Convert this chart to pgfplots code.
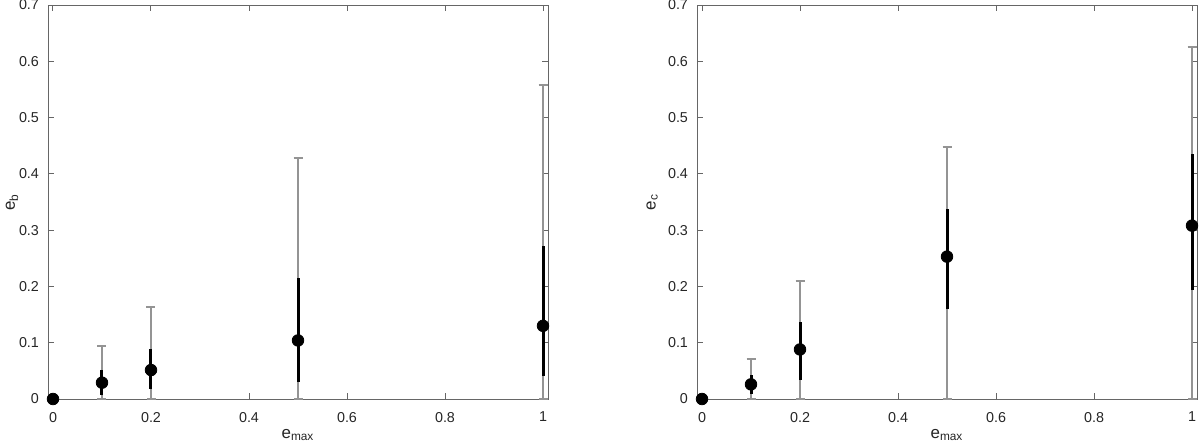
\documentclass[border=0pt]{standalone}
\usepackage{pgfplots}
\pgfplotsset{compat=1.18}
\usepackage{pgfplotstable}
\usepackage{fontspec}
\setmainfont{Liberation Sans}
\pgfplotstableread{
x y lo hi ghi
0 0 0 0 0
0.1 0.029 0.007 0.0515 0.094
0.2 0.0515 0.017 0.088 0.163
0.5 0.104 0.030 0.215 0.428
1 0.130 0.040 0.272 0.557
}\leftdata
\pgfplotstableread{
x y lo hi ghi
0 0 0 0 0
0.1 0.026 0.009 0.043 0.071
0.2 0.088 0.034 0.137 0.210
0.5 0.253 0.160 0.338 0.447
1 0.308 0.193 0.435 0.625
}\rightdata
\pgfplotsset{
  myax/.style={
    scale only axis, width=250bp, height=197bp, anchor=south west,
    xmin=-0.0102, xmax=1.0102, ymin=0, ymax=0.7,
    xtick={0,0.2,0.4,0.6,0.8,1},
    ytick={0,0.1,0.2,0.3,0.4,0.5,0.6,0.7},
    tick align=inside, major tick length=3bp,
    axis line style={black!60, line width=0.5bp},
    every tick/.style={black!60, line width=0.5bp},
    ticklabel style={font=\fontsize{7.2}{8}\selectfont, text=black!85},
    /pgf/number format/assume math mode=true,
    xticklabel style={yshift=-3bp},
    yticklabel style={xshift=-1bp},
    clip=false,
    label style={font=\fontsize{8.5}{10}\selectfont, text=black!85},
    xlabel={e\textsubscript{max}},
    xlabel style={at={([yshift=-18bp]axis description cs:0.5,0)}, anchor=center},
  },
  graybar/.style={draw=none, mark=none,
    error bars/.cd, y dir=both, y explicit,
    error bar style={black!42, line width=1bp},
    error mark options={black!42, line width=1bp, mark size=2.25bp, rotate=90}},
  blackbar/.style={black, only marks, mark=*, mark size=2.9bp,
    error bars/.cd, y dir=both, y explicit, error mark=none,
    error bar style={black, line width=1.5bp}},
}
\begin{document}
\begin{tikzpicture}
\path[use as bounding box] (0bp,0bp) rectangle (600bp,221.5bp);
\begin{axis}[myax, at={(24bp,22bp)},
  ylabel={e\textsubscript{b}},
  ylabel style={at={([xshift=-18bp]axis description cs:0,0.5)}, anchor=center}]
\addplot[graybar] table[x=x, y=y, y error plus expr=\thisrow{ghi}-\thisrow{y}, y error minus expr=\thisrow{y}] {\leftdata};
\addplot[blackbar] table[x=x, y=y, y error plus expr=\thisrow{hi}-\thisrow{y}, y error minus expr=\thisrow{y}-\thisrow{lo}] {\leftdata};
\end{axis}
\begin{axis}[myax, at={(348.5bp,22bp)},
  ylabel={e\textsubscript{c}},
  ylabel style={at={([xshift=-22.5bp]axis description cs:0,0.5)}, anchor=center}]
\addplot[graybar] table[x=x, y=y, y error plus expr=\thisrow{ghi}-\thisrow{y}, y error minus expr=\thisrow{y}] {\rightdata};
\addplot[blackbar] table[x=x, y=y, y error plus expr=\thisrow{hi}-\thisrow{y}, y error minus expr=\thisrow{y}-\thisrow{lo}] {\rightdata};
\end{axis}
\end{tikzpicture}
\end{document}
